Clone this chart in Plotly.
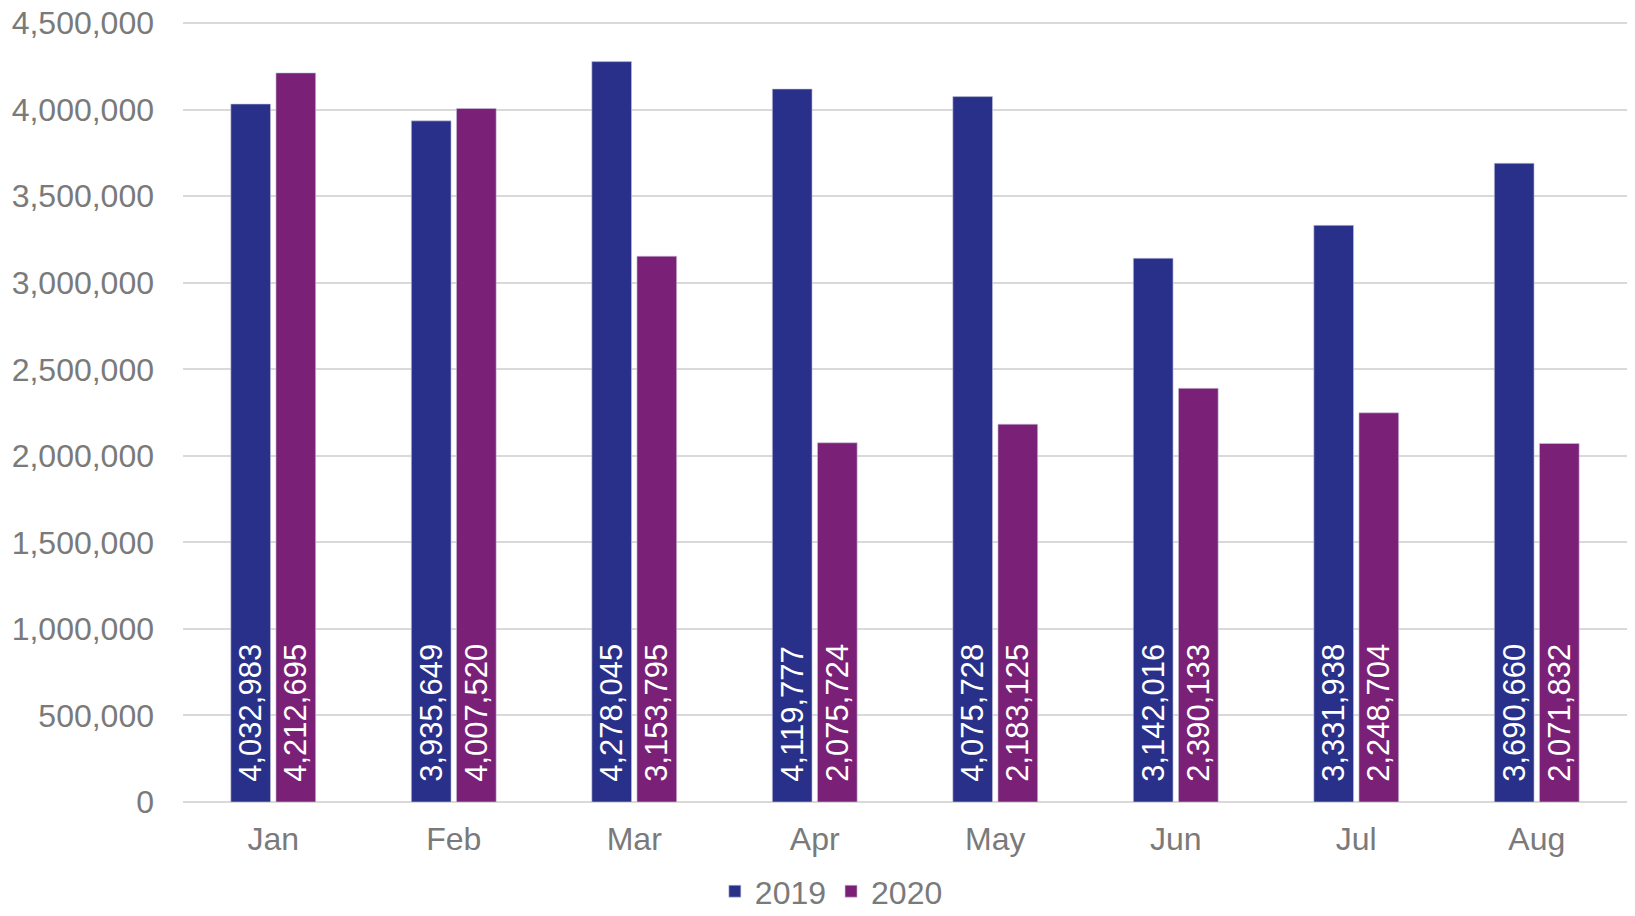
import plotly.graph_objects as go

months = ["Jan", "Feb", "Mar", "Apr", "May", "Jun", "Jul", "Aug"]
visits_2019 = [4032983, 3935649, 4278045, 4119777, 4075728, 3142016, 3331938, 3690660]
visits_2020 = [4212695, 4007520, 3153795, 2075724, 2183125, 2390133, 2248704, 2071832]
y_ticks = [0, 500000, 1000000, 1500000, 2000000, 2500000, 3000000, 3500000, 4000000, 4500000]

FONT = "Liberation Sans, Arial, sans-serif"
GREY = "#7a7a7a"
PAD = "\u00a0\u00a0"  # lift the value labels off the bar base

fig = go.Figure()
for name, vals, color in (("2019", visits_2019, "#283089"), ("2020", visits_2020, "#7b2077")):
    fig.add_trace(
        go.Bar(
            x=months,
            y=vals,
            name=name,
            marker=dict(color=color, line=dict(color="#c8c8dc", width=0.6)),
            text=[PAD + f"{v:,}" for v in vals],
            textposition="inside",
            insidetextanchor="start",
            textangle=-90,
            constraintext="none",
            textfont=dict(family=FONT, size=31, color="white"),
            hoverinfo="x+y+name",
        )
    )

# the page body has an 8px margin, so the figure is sized/offset to fit the window
fig.update_layout(
    width=1619,
    height=900,
    autosize=False,
    barmode="group",
    bargap=0.5,
    bargroupgap=0.12,
    plot_bgcolor="white",
    paper_bgcolor="white",
    margin=dict(l=175, r=0, t=10, b=106, autoexpand=False),
    font=dict(family=FONT, size=32, color=GREY),
    legend=dict(
        orientation="h",
        x=0.449,
        xanchor="center",
        y=-0.114,
        yanchor="middle",
        font=dict(size=32, color=GREY),
    ),
    xaxis=dict(
        showgrid=False,
        showline=False,
        ticks="",
        ticklabelstandoff=15,
        tickfont=dict(size=32, color=GREY),
    ),
    yaxis=dict(
        range=[0, 4530000],
        tickvals=y_ticks,
        tickformat=",",
        showgrid=True,
        gridcolor="#d9d9d9",
        gridwidth=2,
        zeroline=True,
        zerolinecolor="#d9d9d9",
        zerolinewidth=2,
        ticks="",
        ticklabelstandoff=28,
        ticklabeloverflow="allow",
        tickfont=dict(size=32, color=GREY),
    ),
)

fig.write_html("out.html")
